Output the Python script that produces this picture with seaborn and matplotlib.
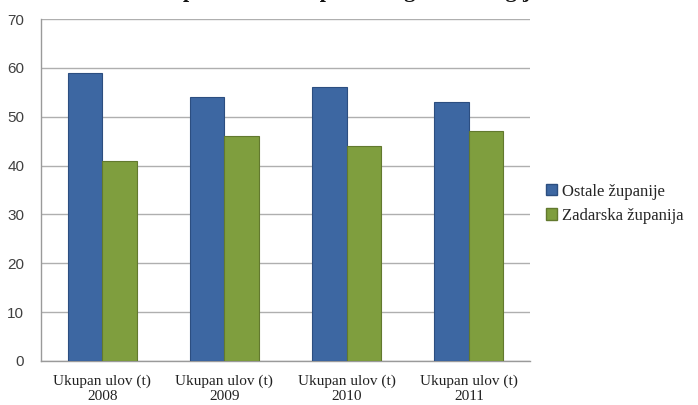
import matplotlib
matplotlib.use("Agg")
import matplotlib.pyplot as plt
import seaborn as sns
import pandas as pd
from matplotlib.ticker import FixedLocator

categories = ["Ukupan ulov (t)\n2008", "Ukupan ulov (t)\n2009", "Ukupan ulov (t)\n2010", "Ukupan ulov (t)\n2011"]
series_names = ["Ostale županije", "Zadarska županija"]
ostale = [59, 54, 56, 53]
zadarska = [41, 46, 44, 47]
y_ticks = [0, 10, 20, 30, 40, 50, 60, 70]
title_text = "Ukupan ulov — usporedba godina i regija"

df = pd.DataFrame({
    "cat": categories * 2,
    "serija": [series_names[0]] * 4 + [series_names[1]] * 4,
    "val": ostale + zadarska,
})

sns.set_style("white")
plt.rcParams["font.family"] = ["Liberation Serif", "DejaVu Serif"]

fig = plt.figure(figsize=(6.98, 4.05), dpi=100)
ax = fig.add_axes([41/698, 1 - 361/405, (530-41)/698, (361-19)/405])

palette = {series_names[0]: "#3D67A2", series_names[1]: "#7F9E3E"}
sns.barplot(data=df, x="cat", y="val", hue="serija", palette=palette,
            width=0.565, ax=ax, saturation=1, edgecolor="none", zorder=3)
for cont, ec in zip(ax.containers, ["#2C4E80", "#62792E"]):
    for b in cont:
        b.set_edgecolor(ec)
        b.set_linewidth(0.8)

ax.set_ylim(0, 70)
ax.set_xlim(-0.5, 3.5)
ax.set_yticks(y_ticks)
ax.yaxis.grid(True, color="#AFAFAF", linewidth=1.0, zorder=0)
ax.set_axisbelow(True)
ax.set_xlabel("")
ax.set_ylabel("")

for s in ["top", "right"]:
    ax.spines[s].set_visible(False)
for s in ["left", "bottom"]:
    ax.spines[s].set_color("#9A9A9A")
    ax.spines[s].set_linewidth(1.0)

ax.tick_params(axis="y", length=5, color="#9A9A9A", width=1, pad=7,
               labelsize=11, labelcolor="#404040")
for lab in ax.get_yticklabels():
    lab.set_family(["Liberation Sans Narrow", "Liberation Sans", "DejaVu Sans"])
ax.tick_params(axis="x", which="major", length=0, pad=10, labelsize=11, labelcolor="#222222")
ax.xaxis.set_minor_locator(FixedLocator([-0.5, 0.5, 1.5, 2.5, 3.5]))
ax.tick_params(axis="x", which="minor", length=5, color="#9A9A9A", width=1)
for lab in ax.get_xticklabels():
    lab.set_linespacing(1.15)

leg = ax.legend(loc="center left", bbox_to_anchor=(1.02, 0.46), frameon=False,
                fontsize=12, handlelength=0.65, handleheight=0.65, handletextpad=0.3,
                labelspacing=0.5, borderaxespad=0)
for h, ec in zip(leg.legend_handles, ["#2C4E80", "#62792E"]):
    h.set_edgecolor(ec)

fig.text(0.49, 1.0 + 3.5/405, title_text, ha="center", va="baseline",
         fontsize=16, fontweight="bold", color="#111111")

fig.savefig("out.png", dpi=100)
